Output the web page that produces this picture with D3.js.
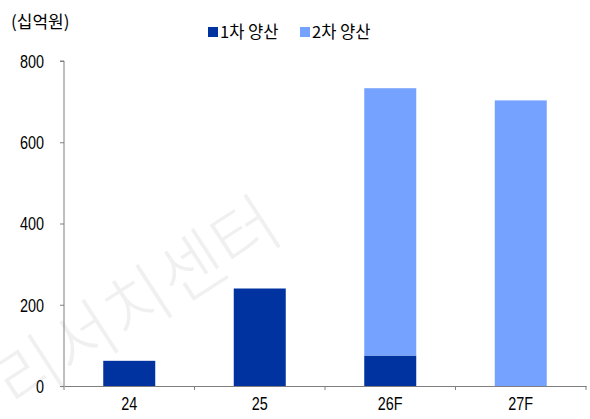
<!DOCTYPE html>
<html>
<meta charset="utf-8" />
<script src="https://d3js.org/d3.v7.min.js"></script>
<style>
  body { margin: 0; background: #fff; }
  .num { font-family: "Liberation Sans", Arial, sans-serif; }
  .kr { font-family: "Noto Sans CJK KR", sans-serif; }
</style>
<body>
<svg id="chart" width="590" height="419"></svg>
<script>
  const years = ["24", "25", "26F", "27F"];
  const firstMass = [62, 240, 75, 0];
  const secondMass = [0, 0, 658, 703];
  const yTicks = [0, 200, 400, 600, 800];
  const seriesNames = ["1차 양산", "2차 양산"];
  const colors = ["#0033a0", "#75a2ff"];

  const svg = d3.select("#chart");
  const plotL = 64, plotR = 586, plotT = 61, plotB = 386;

  const x = d3.scaleBand().domain(years).range([plotL, plotR]).paddingInner(0).paddingOuter(0);
  const y = d3.scaleLinear().domain([0, 800]).range([plotB, plotT]);

  // faint watermark
  svg.append("text")
    .attr("class", "kr")
    .attr("transform", "translate(16,412) rotate(-33)")
    .attr("font-size", 70)
    .attr("font-weight", 300)
    .attr("fill", "#f0f0f0")
    .text("리서치센터");

  const rows = years.map((d, i) => ({ year: d, a: firstMass[i], b: secondMass[i] }));
  const stacked = d3.stack().keys(["a", "b"])(rows);

  const bw = 52;
  svg.append("g").selectAll("g")
    .data(stacked)
    .join("g")
    .attr("fill", (d, i) => colors[i])
    .selectAll("rect")
    .data(d => d)
    .join("rect")
    .attr("x", d => x(d.data.year) + x.bandwidth() / 2 - bw / 2)
    .attr("width", bw)
    .attr("y", d => y(d[1]))
    .attr("height", d => y(d[0]) - y(d[1]));

  // y axis
  const ya = svg.append("g")
    .attr("transform", `translate(${plotL},0)`)
    .call(d3.axisLeft(y).tickValues(yTicks).tickSize(4).tickPadding(16));
  ya.attr("font-family", null);
  ya.select(".domain").attr("stroke", "#7f7f7f").attr("d", `M-4,${plotT}H0V${plotB}`);
  ya.selectAll(".tick line").attr("stroke", "#7f7f7f");
  ya.selectAll(".tick text").attr("class", "num").attr("font-size", 18).attr("fill", "#000")
    .attr("x", 0).attr("dy", "0.35em")
    .attr("transform", "translate(-20,0) scale(0.8,1)");

  // x axis
  const xa = svg.append("g")
    .attr("transform", `translate(0,${plotB})`)
    .call(d3.axisBottom(x).tickSize(0).tickPadding(11));
  xa.attr("font-family", null);
  xa.select(".domain").attr("stroke", "#7f7f7f");
  xa.selectAll(".tick text").attr("class", "num").attr("font-size", 18).attr("fill", "#000")
    .attr("transform", "scale(0.8,1)");
  // category boundary ticks
  xa.selectAll(".bound")
    .data(years.map(d => x(d)).concat([plotR]))
    .join("line")
    .attr("x1", d => d).attr("x2", d => d)
    .attr("y1", 0).attr("y2", 4)
    .attr("stroke", "#7f7f7f");

  // unit label
  svg.append("text")
    .attr("class", "kr")
    .attr("x", 11).attr("y", 28)
    .attr("font-size", 17)
    .text("(십억원)");

  // legend
  const lg = svg.append("g");
  const lx = [208, 300];
  seriesNames.forEach((n, i) => {
    lg.append("rect").attr("x", lx[i]).attr("y", 27).attr("width", 10).attr("height", 10).attr("fill", colors[i]);
    lg.append("text").attr("class", "kr").attr("x", lx[i] + 12).attr("y", 38)
      .attr("font-size", 16.5).text(n);
  });
</script>
</body>
</html>
